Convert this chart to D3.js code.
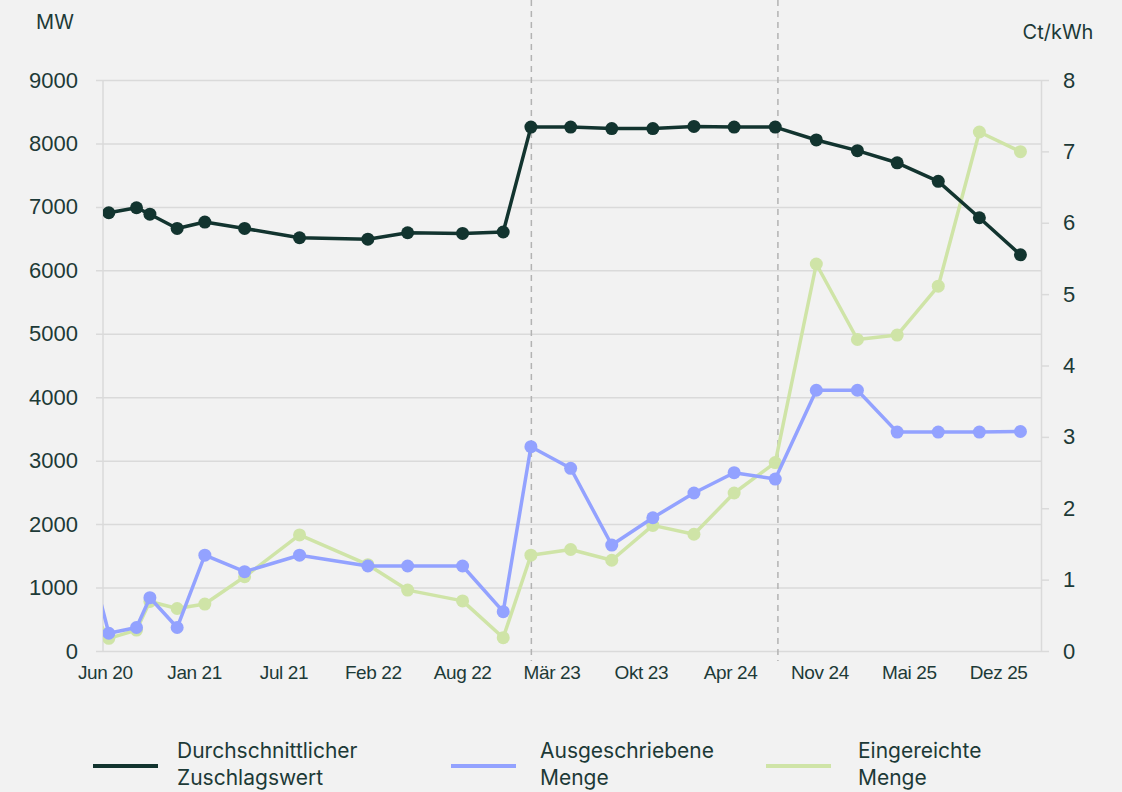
<!DOCTYPE html>
<html>
<head>
<meta charset="utf-8">
<script src="https://cdn.jsdelivr.net/npm/d3@7"></script>
<style>
	body { margin: 0; background: #f2f2f2; }
	svg { display: block; font-family: Inter, "Open Sans", sans-serif; }
</style>
</head>
<body>
<svg id="chart" width="1122" height="792"></svg>
<script>
// Ausschreibungstermine
const dates = ["2020-06-01", "2020-07-01", "2020-09-01", "2020-10-01", "2020-12-01", "2021-02-01", "2021-05-01",
	"2021-09-01", "2022-02-01", "2022-05-01", "2022-09-01", "2022-12-01", "2023-02-01", "2023-05-01", "2023-08-01",
	"2023-11-01", "2024-02-01", "2024-05-01", "2024-08-01", "2024-11-01", "2025-02-01", "2025-05-01", "2025-08-01",
	"2025-11-01", "2026-02-01"]

// Ct/kWh (rechte Achse)
const zuschlagswert = [null, 6.14, 6.21, 6.12, 5.92, 6.01, 5.92, 5.79, 5.77, 5.86, 5.85, 5.87, 7.34, 7.34, 7.32,
	7.32, 7.35, 7.34, 7.34, 7.16, 7.01, 6.84, 6.58, 6.07, 5.55]

// MW (linke Achse)
const ausgeschrieben = [1100, 280, 370, 840, 370, 1510, 1250, 1510, 1340, 1340, 1340, 620, 3220, 2880, 1670,
	2100, 2490, 2810, 2710, 4110, 4110, 3450, 3450, 3450, 3460]
const eingereicht = [550, 200, 330, 780, 670, 740, 1170, 1830, 1360, 960, 790, 210, 1510, 1600, 1430,
	1980, 1840, 2490, 2970, 6100, 4910, 4980, 5750, 8180, 7870]

const xDomain = ["2020-06-18", "2026-03-19"]
const tickDates = ["2020-06-22", "2021-01-08", "2021-07-27", "2022-02-12", "2022-08-31", "2023-03-19",
	"2023-10-05", "2024-04-22", "2024-11-08", "2025-05-27", "2025-12-13"]
const tickLabels = ["Jun 20", "Jan 21", "Jul 21", "Feb 22", "Aug 22", "Mär 23", "Okt 23", "Apr 24", "Nov 24", "Mai 25", "Dez 25"]
const markerDates = ["2023-02-02", "2024-08-07"]

const mwTicks = [0, 1000, 2000, 3000, 4000, 5000, 6000, 7000, 8000, 9000]
const ctTicks = [0, 1, 2, 3, 4, 5, 6, 7, 8]

const series = [
	{ name: ["Eingereichte", "Menge"], values: eingereicht, axis: "mw", color: "#cfe4a7", width: 3.5, r: 6.5 },
	{ name: ["Ausgeschriebene", "Menge"], values: ausgeschrieben, axis: "mw", color: "#93a2ff", width: 3.5, r: 6.5 },
	{ name: ["Durchschnittlicher", "Zuschlagswert"], values: zuschlagswert, axis: "ct", color: "#12342f", width: 3.5, r: 6.5 }
]

const textColor = "#1d3a37"
const gridColor = "#dadada"
const plotLeft = 103, plotRight = 1041, plotTop = 80, plotBottom = 651

const parse = d3.timeParse("%Y-%m-%d")
const x = d3.scaleTime().domain(xDomain.map(parse)).range([plotLeft, plotRight])
const yMW = d3.scaleLinear().domain([0, 9000]).range([plotBottom, plotTop])
const yCt = d3.scaleLinear().domain([0, 8]).range([plotBottom, plotTop])

const svg = d3.select("#chart")
svg.append("rect").attr("width", 1122).attr("height", 792).attr("fill", "#f2f2f2")

svg.append("defs").append("clipPath").attr("id", "plotclip")
	.append("rect").attr("x", plotLeft).attr("y", 0).attr("width", plotRight - plotLeft).attr("height", 792)

// gridlines + left labels
let gLeft = svg.append("g").attr("transform", `translate(${plotRight},0)`)
	.call(d3.axisLeft(yMW).tickValues(mwTicks).tickFormat(d3.format("d"))
		.tickSize(plotRight - 96).tickPadding(18).tickSizeOuter(0))
gLeft.select(".domain").remove()
gLeft.selectAll(".tick line").attr("stroke", gridColor).attr("stroke-width", 1.5)
gLeft.selectAll(".tick text").attr("fill", textColor).style("font-size", "22px")

// axis lines
svg.append("line").attr("x1", plotLeft).attr("x2", plotLeft).attr("y1", plotTop).attr("y2", plotBottom)
	.attr("stroke", gridColor).attr("stroke-width", 1.5)

let gRight = svg.append("g").attr("transform", `translate(${plotRight},0)`)
	.call(d3.axisRight(yCt).tickValues(ctTicks).tickSize(8).tickPadding(14).tickSizeOuter(0))
gRight.select(".domain").attr("stroke", gridColor).attr("stroke-width", 1.5)
gRight.selectAll(".tick line").attr("stroke", gridColor).attr("stroke-width", 1.5)
gRight.selectAll(".tick text").attr("fill", textColor).style("font-size", "22px")

let gBottom = svg.append("g").attr("transform", `translate(0,${plotBottom})`)
	.call(d3.axisBottom(x).tickValues(tickDates.map(parse)).tickFormat((d, i) => tickLabels[i]).tickSize(0).tickPadding(15))
gBottom.select(".domain").remove()
gBottom.selectAll(".tick text").attr("fill", textColor).style("font-size", "19px").style("letter-spacing", "-0.4px")

// dashed markers
svg.selectAll(".marker").data(markerDates.map(parse)).enter().append("line").classed("marker", true)
	.attr("x1", d => x(d)).attr("x2", d => x(d)).attr("y1", 0).attr("y2", plotBottom + 10)
	.attr("stroke", "#b3b3b3").attr("stroke-width", 1.5).attr("stroke-dasharray", "6,5")

// axis titles
svg.append("text").attr("x", 55).attr("y", 29).attr("text-anchor", "middle")
	.attr("fill", textColor).style("font-size", "20px").text("MW")
svg.append("text").attr("x", 1058).attr("y", 39).attr("text-anchor", "middle")
	.attr("fill", textColor).style("font-size", "20px").text("Ct/kWh")

// lines and points
let plot = svg.append("g").attr("clip-path", "url(#plotclip)")
series.forEach(s => {
	let y = s.axis == "mw" ? yMW : yCt
	let pts = dates.map((d, i) => ({ date: parse(d), value: s.values[i] })).filter(p => p.value != null)
	let line = d3.line().x(p => x(p.date)).y(p => y(p.value))
	plot.append("path").datum(pts).attr("d", line)
		.attr("fill", "none").attr("stroke", s.color).attr("stroke-width", s.width).attr("stroke-linejoin", "round")
	plot.selectAll(null).data(pts).enter().append("circle")
		.attr("cx", p => x(p.date)).attr("cy", p => y(p.value)).attr("r", s.r).attr("fill", s.color)
})

// legend
const legendX = [93, 451, 766]
const legendTextX = [177, 540, 858]
const legendOrder = [2, 1, 0]
legendOrder.forEach((si, k) => {
	let s = series[si]
	svg.append("line").attr("x1", legendX[k]).attr("x2", legendX[k] + 65).attr("y1", 766).attr("y2", 766)
		.attr("stroke", s.color).attr("stroke-width", 4)
	let t = svg.append("text").attr("x", legendTextX[k]).attr("y", 758).attr("fill", textColor).style("font-size", "21px")
	s.name.forEach((n, j) => {
		t.append("tspan").attr("x", legendTextX[k]).attr("dy", j == 0 ? 0 : 27).text(n)
	})
})
</script>
</body>
</html>
